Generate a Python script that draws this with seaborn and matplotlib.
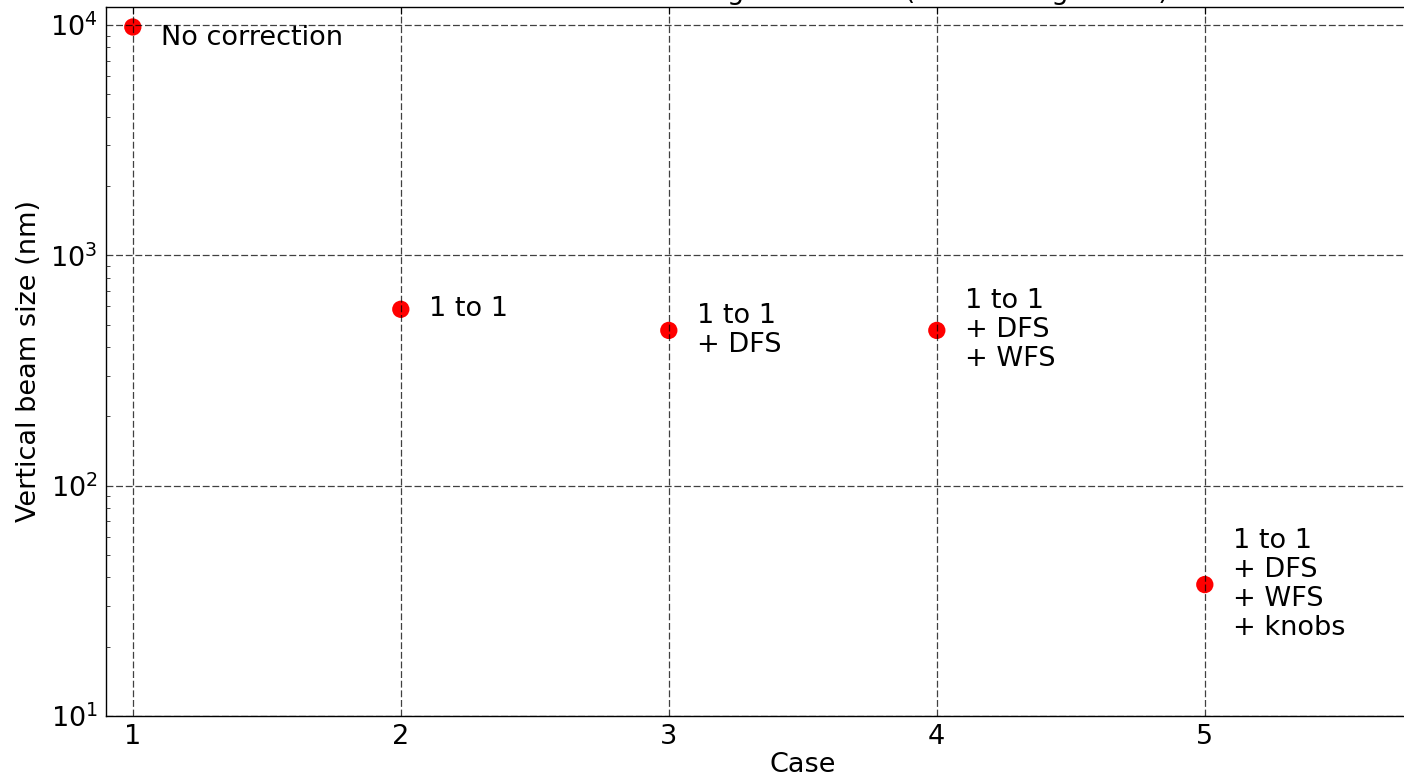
import matplotlib
matplotlib.use("Agg")
import matplotlib.pyplot as plt
import seaborn as sns
import pandas as pd

# Correction cases and the resulting vertical beam size (nm)
cases = [1, 2, 3, 4, 5]
beam_size_nm = [9800, 583, 472, 472, 37.2]
labels = [
    "No correction",
    "1 to 1",
    "1 to 1\n+ DFS",
    "1 to 1\n+ DFS\n+ WFS",
    "1 to 1\n+ DFS\n+ WFS\n+ knobs",
]
label_dy = [-8, 0, 0, 0, 0]  # vertical label offsets (points)

df = pd.DataFrame({"case": cases, "size": beam_size_nm})

sns.set_style("white")
plt.rcParams["font.family"] = ["DejaVu Sans"]
plt.rcParams["mathtext.fontset"] = "dejavusans"

FS = 19.5

fig = plt.figure(figsize=(14.04, 7.78), dpi=100)
ax = fig.add_axes([0.0755, 0.0797, 0.9926, 0.9113])

sns.scatterplot(data=df, x="case", y="size", color="red", s=155,
                edgecolor="none", ax=ax, zorder=1)

ax.set_yscale("log")
ax.set_ylim(10, 10 ** 4.078)
ax.set_xlim(0.9, 6.1)
ax.set_xticks(cases)
ax.set_xticklabels([str(c) for c in cases])

ax.set_axisbelow(False)
ax.grid(True, which="major", color="black", linestyle=(0, (5.5, 2.2)),
        linewidth=0.9, alpha=0.75)

for sp in ax.spines.values():
    sp.set_color("black")
    sp.set_linewidth(1.0)

ax.tick_params(axis="both", which="major", direction="in", top=True, right=True,
               length=5, width=0.8, labelsize=FS, pad=6, colors="black")
ax.tick_params(axis="y", which="minor", direction="in", left=True, right=True,
               length=3, width=0.6)

for x, y, txt, dy in zip(cases, beam_size_nm, labels, label_dy):
    ax.annotate(txt, xy=(x, y), xytext=(20, dy), textcoords="offset points",
                fontsize=FS, va="center", ha="left", color="black",
                linespacing=1.15)

ax.set_xlabel("Case", fontsize=FS, labelpad=1, color="black")
ax.set_ylabel("Vertical beam size (nm)", fontsize=FS, labelpad=6, color="black")
ax.set_title("Beam size after tuning in the BDS (with tuning knobs)",
             fontsize=FS, color="black")

fig.savefig("out.png", dpi=100)
